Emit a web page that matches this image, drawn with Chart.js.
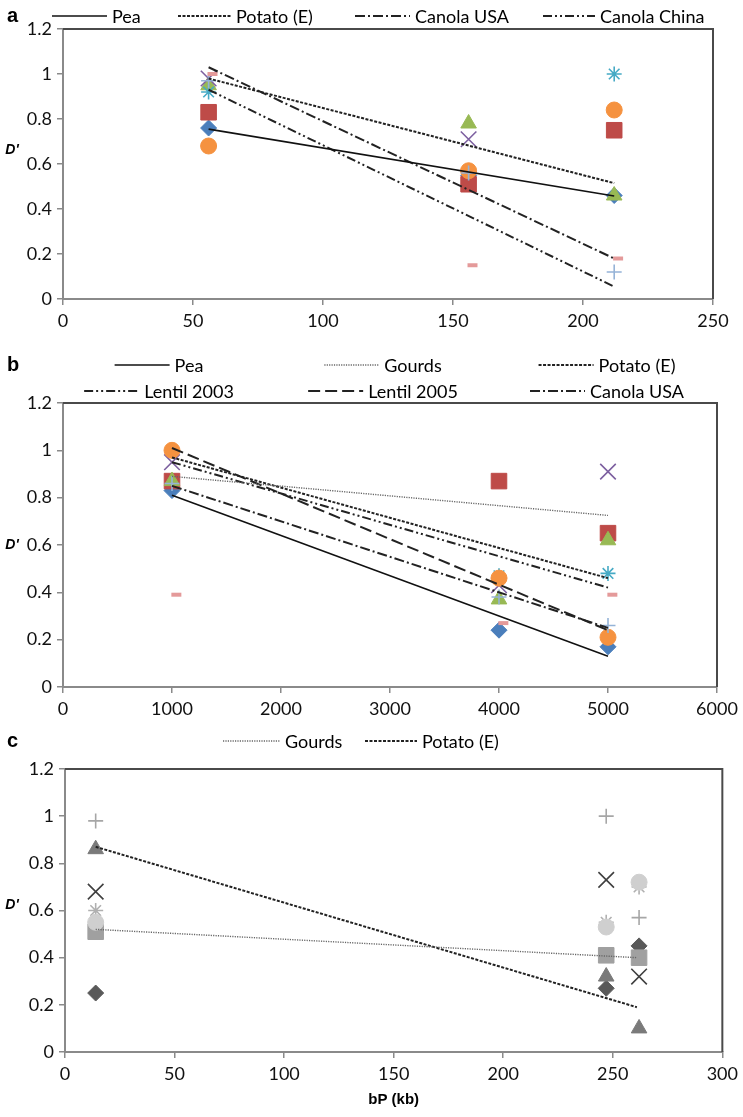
<!DOCTYPE html>
<html><head><meta charset="utf-8">
<script src="https://cdn.jsdelivr.net/npm/chart.js@4.4.0/dist/chart.umd.min.js"></script>
<style>
html,body{margin:0;padding:0;background:#fff;}
#wrap{position:relative;width:743px;height:1117px;overflow:hidden;background:#fff;}
canvas{position:absolute;left:0;}
</style></head><body>
<div id="wrap">
<canvas id="ca" width="743" height="340" style="top:0px"></canvas>
<canvas id="cb" width="743" height="380" style="top:340px"></canvas>
<canvas id="cc" width="743" height="397" style="top:720px"></canvas>
</div>
<script>
// ---------- DATA ----------
const yTicks = [0, 0.2, 0.4, 0.6, 0.8, 1, 1.2];

// Panel a
const aXTicks = [0, 50, 100, 150, 200, 250];
const aX = [56, 156, 212];
const aDashX = [57.5, 157.5, 213.5];
const aDiamond = [0.76, 0.55, 0.46];
const aSquare = [0.83, 0.51, 0.75];
const aTriangle = [0.95, 0.78, 0.46];
const aCross = [0.98, 0.71, null];
const aStar = [0.92, 0.57, 1.0];
const aCircle = [0.68, 0.57, 0.84];
const aPlus = [0.97, 0.56, 0.12];
const aDash = [1.0, 0.15, 0.18];
const aTrendX = [56, 212];
const aPea = [0.755, 0.458];
const aPotato = [0.98, 0.515];
const aCanolaUSA = [1.03, 0.18];
const aCanolaChina = [0.93, 0.055];

// Panel b
const bXTicks = [0, 1000, 2000, 3000, 4000, 5000, 6000];
const bX = [1000, 4000, 5000];
const bDashX = [1040, 4040, 5040];
const bDiamond = [0.83, 0.24, 0.17];
const bSquare = [0.87, 0.87, 0.65];
const bTriangle = [0.87, 0.37, 0.62];
const bCross = [0.95, 0.43, 0.91];
const bStar = [1.0, 0.47, 0.48];
const bCircle = [1.0, 0.46, 0.21];
const bPlus = [0.86, 0.38, 0.26];
const bDash = [0.39, 0.27, 0.39];
const bTrendX = [1000, 5000];
const bPea = [0.81, 0.13];
const bGourds = [0.89, 0.725];
const bPotato = [0.97, 0.46];
const bLentil2003 = [0.95, 0.42];
const bLentil2005 = [1.01, 0.24];
const bCanolaUSA = [0.85, 0.25];

// Panel c
const cXTicks = [0, 50, 100, 150, 200, 250, 300];
const cX = [14, 247, 262];
const cDiamond = [0.25, 0.27, 0.45];
const cSquare = [0.51, 0.41, 0.40];
const cTriangle = [0.86, 0.32, 0.10];
const cCross = [0.68, 0.73, 0.32];
const cStar = [0.60, 0.55, 0.70];
const cCircle = [0.55, 0.53, 0.72];
const cPlus = [0.98, 1.00, 0.57];
const cTrendX = [14, 261];
const cGourds = [0.52, 0.40];
const cPotato = [0.87, 0.19];

// ---------- STYLES ----------
Chart.defaults.font.family = 'Lato, "Open Sans", sans-serif';
Chart.defaults.font.size = 18;
Chart.defaults.color = '#111';

const colorSet = {
  diamond: '#4A7EBB', square: '#BE4B48', triangle: '#98B954', cross: '#7D60A0',
  star: '#46AAC5', circle: '#F59240', plus: '#95B3D7', dash: '#E49A9A'
};
const graySet = {
  diamond: '#595959', square: '#A0A0A0', triangle: '#7A7A7A', cross: '#404040',
  star: '#B0B0B0', circle: '#CFCFCF', plus: '#A6A6A6'
};
const markerStyle = {
  diamond: {ps: 'rectRot', r: 8, bw: 1},
  square: {ps: 'rect', r: 11, bw: 1},
  triangle: {ps: 'triangle', r: 9, bw: 1},
  cross: {ps: 'crossRot', r: 11, bw: 1.6},
  star: {ps: 'star', r: 7.5, bw: 1.6},
  circle: {ps: 'circle', r: 8, bw: 1},
  plus: {ps: 'cross', r: 7.5, bw: 1.6},
  dash: {ps: 'line', r: 5, bw: 4}
};
const lineStyle = {
  solid: {dash: [], w: 1.6, c: '#111'},
  shortDash: {dash: [3, 1.5], w: 2, c: '#222'},
  dotted: {dash: [1.2, 1.2], w: 1.4, c: '#666'},
  dashDot: {dash: [10, 3, 2, 3], w: 2, c: '#222'},
  dashDotDot: {dash: [9, 3, 2, 3, 2, 3], w: 2, c: '#222'},
  longDash: {dash: [12, 5], w: 2, c: '#222'}
};

function markers(kind, xs, ys, colors, order) {
  const st = markerStyle[kind];
  const data = [];
  xs.forEach((x, i) => { if (ys[i] !== null) data.push({x: x, y: ys[i]}); });
  return {
    data, showLine: false, order,
    pointStyle: st.ps, pointRadius: st.r, pointHoverRadius: st.r,
    pointBorderWidth: st.bw,
    pointBackgroundColor: colors[kind], pointBorderColor: colors[kind]
  };
}
function trend(label, xs, ys, styleName) {
  const st = lineStyle[styleName];
  return {
    label, data: xs.map((x, i) => ({x: x, y: ys[i]})), showLine: true,
    borderColor: st.c, borderWidth: st.w, borderDash: st.dash,
    pointRadius: 0, pointHoverRadius: 0, fill: false, order: 0, tension: 0
  };
}

// ---------- DECORATION PLUGIN ----------
const deco = {
  id: 'deco',
  beforeDatasetsDraw(chart) {
    const a = chart.chartArea, ctx = chart.ctx;
    ctx.save();
    ctx.strokeStyle = '#4a4a4a';
    ctx.lineWidth = 2;
    ctx.beginPath();
    ctx.moveTo(a.left, a.top); ctx.lineTo(a.right, a.top); ctx.lineTo(a.right, a.bottom);
    ctx.stroke();
    ctx.restore();
  },
  afterDraw(chart, args, opts) {
    const ctx = chart.ctx, a = chart.chartArea;
    ctx.save();
    // panel letter
    ctx.fillStyle = '#000';
    ctx.font = 'bold 20px "Liberation Sans", Arial, sans-serif';
    ctx.textBaseline = 'middle'; ctx.textAlign = 'left';
    ctx.fillText(opts.letter, 7, opts.letterY);
    // y title
    ctx.font = 'italic bold 14px "Liberation Sans", Arial, sans-serif';
    ctx.textAlign = 'center';
    ctx.fillText("D'", 12, opts.yTitleY);
    // x title
    if (opts.xTitle) {
      ctx.font = 'bold 15px "Liberation Sans", Arial, sans-serif';
      ctx.fillText(opts.xTitle, (a.left + a.right) / 2, opts.xTitleY);
    }
    // legend
    ctx.font = '18px Lato, "Open Sans", sans-serif';
    ctx.textAlign = 'left';
    (opts.legend || []).forEach(item => {
      const ds = chart.data.datasets[item.ds];
      const len = item.len || 55;
      let x = item.x;
      if (item.cx !== undefined) {
        const w = len + 5 + ctx.measureText(ds.label).width;
        x = item.cx - w / 2;
      }
      ctx.save();
      ctx.strokeStyle = ds.borderColor; ctx.lineWidth = ds.borderWidth;
      ctx.setLineDash(ds.borderDash || []);
      ctx.beginPath(); ctx.moveTo(x, item.y); ctx.lineTo(x + len, item.y); ctx.stroke();
      ctx.restore();
      ctx.fillStyle = '#000';
      ctx.fillText(ds.label, x + len + 5, item.y + 1);
    });
    ctx.restore();
  }
};

function makeChart(id, cfg) {
  return new Chart(document.getElementById(id), {
    type: 'scatter',
    data: {datasets: cfg.datasets},
    options: {
      responsive: false, animation: false, devicePixelRatio: 1,
      layout: {padding: {top: cfg.top, right: 743 - cfg.right, left: 0, bottom: 0}},
      plugins: {legend: {display: false}, tooltip: {enabled: false}, deco: cfg.deco},
      scales: {
        x: {
          type: 'linear', min: cfg.xTicks[0], max: cfg.xTicks[cfg.xTicks.length - 1],
          afterFit(s) { s.height = cfg.xAxisH; },
          afterBuildTicks(s) { s.ticks = cfg.xTicks.map(v => ({value: v})); },
          ticks: {callback: v => String(v), padding: 5, color: '#111', maxRotation: 0, autoSkip: false},
          grid: {drawOnChartArea: false, drawTicks: true, tickLength: 6, color: '#8a8a8a', lineWidth: 1.5},
          border: {display: true, color: '#8a8a8a', width: 2}
        },
        y: {
          type: 'linear', min: 0, max: 1.2,
          afterFit(s) { s.width = cfg.left; },
          afterBuildTicks(s) { s.ticks = yTicks.map(v => ({value: v})); },
          ticks: {callback: v => String(v), padding: 5, color: '#111', autoSkip: false},
          grid: {drawOnChartArea: false, drawTicks: true, tickLength: 6, color: '#8a8a8a', lineWidth: 1.5},
          border: {display: true, color: '#8a8a8a', width: 2}
        }
      }
    },
    plugins: [deco]
  });
}

// ---------- PANEL A ----------
makeChart('ca', {
  top: 29, left: 63, right: 713, xAxisH: 41, xTicks: aXTicks,
  datasets: [
    trend('Pea', aTrendX, aPea, 'solid'),
    trend('Potato (E)', aTrendX, aPotato, 'shortDash'),
    trend('Canola USA', aTrendX, aCanolaUSA, 'dashDot'),
    trend('Canola China', aTrendX, aCanolaChina, 'dashDotDot'),
    markers('diamond', aX, aDiamond, colorSet, 8),
    markers('square', aX, aSquare, colorSet, 7),
    markers('triangle', aX, aTriangle, colorSet, 6),
    markers('cross', aX, aCross, colorSet, 5),
    markers('star', aX, aStar, colorSet, 4),
    markers('circle', aX, aCircle, colorSet, 3),
    markers('plus', aX, aPlus, colorSet, 2),
    markers('dash', aDashX, aDash, colorSet, 1)
  ],
  deco: {
    letter: 'a', letterY: 16, yTitleY: 150,
    legend: [
      {ds: 0, x: 52, y: 16, len: 55},
      {ds: 1, x: 178, y: 16, len: 53},
      {ds: 2, x: 355, y: 16, len: 55},
      {ds: 3, x: 543, y: 16, len: 52}
    ]
  }
});

// ---------- PANEL B ----------
makeChart('cb', {
  top: 63, left: 63, right: 717, xAxisH: 33, xTicks: bXTicks,
  datasets: [
    trend('Pea', bTrendX, bPea, 'solid'),
    trend('Gourds', bTrendX, bGourds, 'dotted'),
    trend('Potato (E)', bTrendX, bPotato, 'shortDash'),
    trend('Lentil 2003', bTrendX, bLentil2003, 'dashDotDot'),
    trend('Lentil 2005', bTrendX, bLentil2005, 'longDash'),
    trend('Canola USA', bTrendX, bCanolaUSA, 'dashDot'),
    markers('diamond', bX, bDiamond, colorSet, 8),
    markers('square', bX, bSquare, colorSet, 7),
    markers('triangle', bX, bTriangle, colorSet, 6),
    markers('cross', bX, bCross, colorSet, 5),
    markers('star', bX, bStar, colorSet, 4),
    markers('circle', bX, bCircle, colorSet, 3),
    markers('plus', bX, bPlus, colorSet, 2),
    markers('dash', bDashX, bDash, colorSet, 1)
  ],
  deco: {
    letter: 'b', letterY: 25, yTitleY: 205,
    legend: [
      {ds: 0, cx: 159, y: 25},
      {ds: 1, cx: 383, y: 25},
      {ds: 2, cx: 607, y: 25},
      {ds: 3, cx: 159, y: 51},
      {ds: 4, cx: 383, y: 51},
      {ds: 5, cx: 607, y: 51}
    ]
  }
});

// ---------- PANEL C ----------
makeChart('cc', {
  top: 49, left: 65, right: 725, xAxisH: 65, xTicks: cXTicks,
  datasets: [
    trend('Gourds', cTrendX, cGourds, 'dotted'),
    trend('Potato (E)', cTrendX, cPotato, 'shortDash'),
    markers('diamond', cX, cDiamond, graySet, 8),
    markers('square', cX, cSquare, graySet, 7),
    markers('triangle', cX, cTriangle, graySet, 6),
    markers('cross', cX, cCross, graySet, 5),
    markers('star', cX, cStar, graySet, 4),
    markers('circle', cX, cCircle, graySet, 3),
    markers('plus', cX, cPlus, graySet, 2)
  ],
  deco: {
    letter: 'c', letterY: 21, yTitleY: 185, xTitle: 'bP (kb)', xTitleY: 380,
    legend: [
      {ds: 0, x: 223, y: 21, len: 57},
      {ds: 1, x: 365, y: 21, len: 52}
    ]
  }
});
</script>
</body></html>
